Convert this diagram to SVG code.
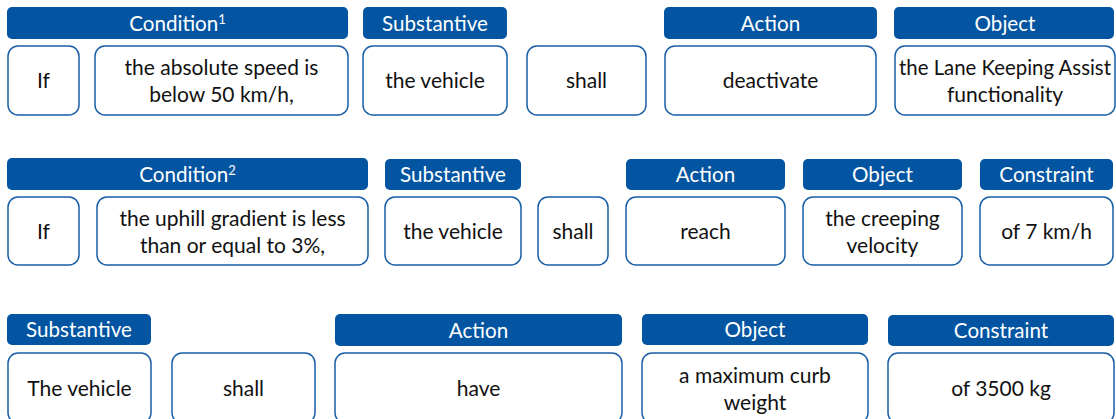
<svg xmlns="http://www.w3.org/2000/svg" width="1116" height="419" viewBox="0 0 1116 419">
  <style>
    .hd { fill: #0355a1; }
    .bx { fill: #ffffff; stroke: #1a5ea8; stroke-width: 1.5; }
    .ht { font-family: Lato, "Liberation Sans", sans-serif; font-size: 20.6px; fill: #ffffff; text-anchor: middle; }
    .bt { font-family: Lato, "Liberation Sans", sans-serif; font-size: 21px; fill: #111111; text-anchor: middle; }
    .sup { font-size: 13px; }
  </style>
  <rect width="1116" height="419" fill="#ffffff"/>

  <!-- Sentence 1 -->
  <g id="r1-condition-header"><rect class="hd" x="7" y="7" width="341" height="32" rx="5"/><text class="ht" x="177.5" y="30.5">Condition<tspan class="sup" dy="-7">1</tspan></text></g>
  <g id="r1-if"><rect class="bx" x="8" y="46" width="71" height="69" rx="10"/><text class="bt" x="43.5" y="88">If</text></g>
  <g id="r1-condition"><rect class="bx" x="95" y="46" width="253" height="69" rx="10"/><text class="bt" x="221.5" y="75">the absolute speed is</text><text class="bt" x="221.5" y="102">below 50 km/h,</text></g>
  <g id="r1-substantive-header"><rect class="hd" x="363" y="7" width="144" height="32" rx="5"/><text class="ht" x="435" y="30.5">Substantive</text></g>
  <g id="r1-substantive"><rect class="bx" x="363" y="46" width="144" height="69" rx="10"/><text class="bt" x="435" y="88">the vehicle</text></g>
  <g id="r1-shall"><rect class="bx" x="527" y="46" width="119" height="69" rx="10"/><text class="bt" x="586.5" y="88">shall</text></g>
  <g id="r1-action-header"><rect class="hd" x="664" y="7" width="213" height="32" rx="5"/><text class="ht" x="770.5" y="30.5">Action</text></g>
  <g id="r1-action"><rect class="bx" x="665" y="46" width="211" height="69" rx="10"/><text class="bt" x="770.5" y="88">deactivate</text></g>
  <g id="r1-object-header"><rect class="hd" x="894" y="7" width="220" height="32" rx="5"/><text class="ht" x="1005" y="30.5">Object</text></g>
  <g id="r1-object"><rect class="bx" x="895" y="46" width="220" height="69" rx="10"/><text class="bt" x="1005" y="75" textLength="212" lengthAdjust="spacingAndGlyphs">the Lane Keeping Assist</text><text class="bt" x="1005" y="102">functionality</text></g>

  <!-- Sentence 2 -->
  <g id="r2-condition-header"><rect class="hd" x="7" y="158" width="361" height="32" rx="5"/><text class="ht" x="187.5" y="181.5">Condition<tspan class="sup" dy="-7">2</tspan></text></g>
  <g id="r2-if"><rect class="bx" x="8" y="197" width="71" height="68" rx="10"/><text class="bt" x="43.5" y="239">If</text></g>
  <g id="r2-condition"><rect class="bx" x="97" y="197" width="271" height="68" rx="10"/><text class="bt" x="232.5" y="225.5">the uphill gradient is less</text><text class="bt" x="232.5" y="252.5">than or equal to 3%,</text></g>
  <g id="r2-substantive-header"><rect class="hd" x="385" y="159" width="136" height="31" rx="5"/><text class="ht" x="453" y="181.5">Substantive</text></g>
  <g id="r2-substantive"><rect class="bx" x="385" y="197" width="136" height="68" rx="10"/><text class="bt" x="453" y="239">the vehicle</text></g>
  <g id="r2-shall"><rect class="bx" x="538" y="197" width="70" height="68" rx="10"/><text class="bt" x="573" y="239">shall</text></g>
  <g id="r2-action-header"><rect class="hd" x="626" y="159" width="159" height="31" rx="5"/><text class="ht" x="705.5" y="181.5">Action</text></g>
  <g id="r2-action"><rect class="bx" x="626" y="197" width="159" height="68" rx="10"/><text class="bt" x="705.5" y="239">reach</text></g>
  <g id="r2-object-header"><rect class="hd" x="803" y="159" width="159" height="31" rx="5"/><text class="ht" x="882.5" y="181.5">Object</text></g>
  <g id="r2-object"><rect class="bx" x="803" y="197" width="159" height="68" rx="10"/><text class="bt" x="882.5" y="225.5">the creeping</text><text class="bt" x="882.5" y="252.5">velocity</text></g>
  <g id="r2-constraint-header"><rect class="hd" x="980" y="159" width="133" height="31" rx="5"/><text class="ht" x="1046.5" y="181.5">Constraint</text></g>
  <g id="r2-constraint"><rect class="bx" x="980" y="197" width="133" height="68" rx="10"/><text class="bt" x="1046.5" y="239">of 7 km/h</text></g>

  <!-- Sentence 3 -->
  <g id="r3-substantive-header"><rect class="hd" x="7" y="314" width="144" height="31" rx="5"/><text class="ht" x="79" y="337">Substantive</text></g>
  <g id="r3-substantive"><rect class="bx" x="8" y="353" width="143" height="70" rx="10"/><text class="bt" x="79.5" y="395.5">The vehicle</text></g>
  <g id="r3-shall"><rect class="bx" x="172" y="353" width="143" height="70" rx="10"/><text class="bt" x="243.5" y="395.5">shall</text></g>
  <g id="r3-action-header"><rect class="hd" x="335" y="314" width="287" height="32" rx="5"/><text class="ht" x="478.5" y="337.5">Action</text></g>
  <g id="r3-action"><rect class="bx" x="335" y="353" width="287" height="70" rx="10"/><text class="bt" x="478.5" y="395.5">have</text></g>
  <g id="r3-object-header"><rect class="hd" x="642" y="314" width="226" height="31" rx="5"/><text class="ht" x="755" y="337">Object</text></g>
  <g id="r3-object"><rect class="bx" x="642" y="353" width="226" height="70" rx="10"/><text class="bt" x="755" y="382.5">a maximum curb</text><text class="bt" x="755" y="409.5">weight</text></g>
  <g id="r3-constraint-header"><rect class="hd" x="888" y="315" width="226" height="31" rx="5"/><text class="ht" x="1001" y="338">Constraint</text></g>
  <g id="r3-constraint"><rect class="bx" x="888" y="353" width="226" height="70" rx="10"/><text class="bt" x="1001" y="395.5">of 3500 kg</text></g>
</svg>
